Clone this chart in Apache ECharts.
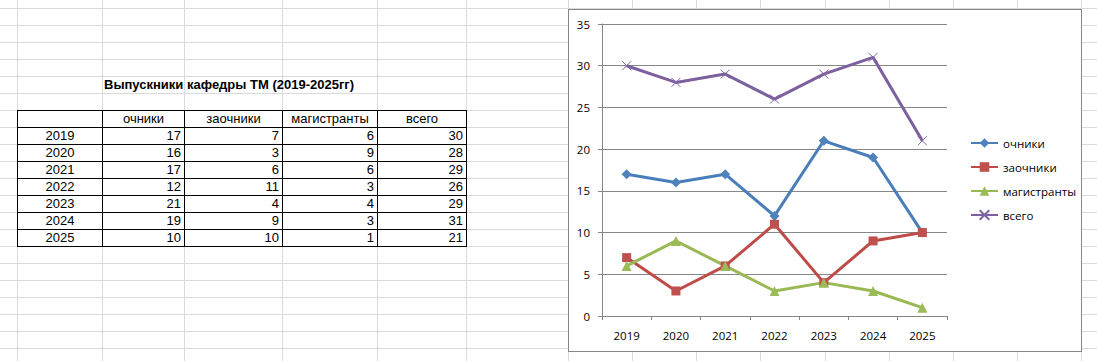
<!DOCTYPE html>
<html><head><meta charset="utf-8">
<script src="https://cdn.jsdelivr.net/npm/echarts@6/dist/echarts.min.js"></script>
<style>
html,body{margin:0;padding:0;background:#fff;width:1097px;height:361px;overflow:hidden;}
body{position:relative;}
.gl{position:absolute;background:#dadada;}
.tl{position:absolute;background:#000;}
.tx{position:absolute;font-family:"Liberation Sans",Arial,sans-serif;font-size:13px;color:#000;line-height:16px;height:16px;white-space:nowrap;}
#box{position:absolute;left:568px;top:9px;width:514px;height:343px;box-sizing:border-box;border:1px solid #868686;background:#fff;}
#chart{position:absolute;left:0;top:0;width:512px;height:341px;}
</style></head><body>
<div id="sheet"></div>
<div id="box"><div id="chart"></div></div>
<script>
// ---- data ----
const title = 'Выпускники кафедры ТМ (2019-2025гг)';
const years = ['2019', '2020', '2021', '2022', '2023', '2024', '2025'];
const headers = ['очники', 'заочники', 'магистранты', 'всего'];
const ochniki = [17, 16, 17, 12, 21, 19, 10];
const zaochniki = [7, 3, 6, 11, 4, 9, 10];
const magistranty = [6, 9, 6, 3, 4, 3, 1];
const vsego = [30, 28, 29, 26, 29, 31, 21];
const yMin = 0, yMax = 35, yStep = 5;

// ---- spreadsheet layout ----
const colLines = [17, 102, 184, 282, 377, 466, 568, 632, 696, 760, 825, 889, 953, 1017, 1081];
const rowTop = 8, rowH = 17, rowCount = 21;
const sheet = document.getElementById('sheet');
function el(cls, l, t, w, h, text, align) {
  const d = document.createElement('div');
  d.className = cls;
  d.style.left = l + 'px'; d.style.top = t + 'px';
  if (w != null) d.style.width = w + 'px';
  if (h != null) d.style.height = h + 'px';
  if (text != null) { d.textContent = text; d.style.textAlign = align || 'left'; }
  sheet.appendChild(d);
  return d;
}
for (let k = 0; k < rowCount; k++) el('gl', 0, rowTop + k * rowH, 1097, 1);
colLines.forEach(x => el('gl', x, 0, 1, 361));

// table
const tRow0 = 6, nRows = years.length + 1;
const tTop = rowTop + tRow0 * rowH, tBot = tTop + nRows * rowH;
for (let r = 0; r <= nRows; r++) el('tl', colLines[0], tTop + r * rowH, colLines[5] - colLines[0] + 1, 1);
for (let c = 0; c <= 5; c++) el('tl', colLines[c], tTop, 1, tBot - tTop + 1);

// title
el('tx', colLines[1] + 2, rowTop + 4 * rowH + 1, null, null, title).style.fontWeight = 'bold';

// header
headers.forEach((h, j) => {
  el('tx', colLines[j + 1] + 1, tTop + 1, colLines[j + 2] - colLines[j + 1] - 1, null, h, 'center');
});
const cols = [ochniki, zaochniki, magistranty, vsego];
years.forEach((y, i) => {
  const top = tTop + (i + 1) * rowH + 1;
  el('tx', colLines[0] + 1, top, colLines[1] - colLines[0] - 1, null, y, 'center');
  cols.forEach((arr, j) => {
    el('tx', colLines[j + 1] + 1, top, colLines[j + 2] - colLines[j + 1] - 4, null, String(arr[i]), 'right');
  });
});

// ---- chart ----
const chart = echarts.init(document.getElementById('chart'), null, {renderer: 'svg', width: 512, height: 341});
const axisGray = '#868686';
const fnt = '"Open Sans", sans-serif';
const xPath = 'path://M0,0L10,10M10,0L0,10';
chart.setOption({
  animation: false,
  textStyle: {fontFamily: fnt},
  grid: {left: 33, top: 14, width: 345, height: 292, outerBoundsMode: 'none'},
  xAxis: {
    type: 'category', data: years, boundaryGap: true,
    axisLine: {show: true, lineStyle: {color: axisGray, width: 1}},
    axisTick: {show: true, length: 4, interval: 0, lineStyle: {color: axisGray}},
    axisLabel: {color: '#000', fontSize: 11.5, fontFamily: fnt, margin: 13, interval: 0},
    splitLine: {show: false}
  },
  yAxis: {
    type: 'value', min: yMin, max: yMax, interval: yStep,
    axisLine: {show: true, lineStyle: {color: axisGray, width: 1}},
    axisTick: {show: true, length: 4, lineStyle: {color: axisGray}},
    axisLabel: {color: '#000', fontSize: 11.5, fontFamily: fnt, margin: 12},
    splitLine: {show: true, lineStyle: {color: axisGray, width: 1}}
  },
  legend: {
    orient: 'vertical', left: 396, top: 122,
    itemWidth: 27, itemHeight: 12, itemGap: 12,
    textStyle: {fontSize: 11.5, color: '#000', fontFamily: fnt},
    data: headers
  },
  series: [
    {name: headers[0], type: 'line', data: ochniki, symbol: 'diamond', symbolSize: 10,
     color: '#4F81BD', lineStyle: {color: '#4A7EBB', width: 3},
     itemStyle: {color: '#4F81BD', borderWidth: 0}},
    {name: headers[1], type: 'line', data: zaochniki, symbol: 'rect', symbolSize: 9,
     color: '#C0504D', lineStyle: {color: '#BE4B48', width: 3},
     itemStyle: {color: '#C0504D', borderWidth: 0}},
    {name: headers[2], type: 'line', data: magistranty, symbol: 'triangle', symbolSize: 10,
     color: '#9BBB59', lineStyle: {color: '#98B954', width: 3},
     itemStyle: {color: '#9BBB59', borderWidth: 0}},
    {name: headers[3], type: 'line', data: vsego, symbol: xPath, symbolSize: 9,
     color: '#8064A2', lineStyle: {color: '#7D60A0', width: 3},
     itemStyle: {color: '#8064A2', borderColor: '#8064A2', borderWidth: 1}}
  ]
});
</script>
</body></html>
